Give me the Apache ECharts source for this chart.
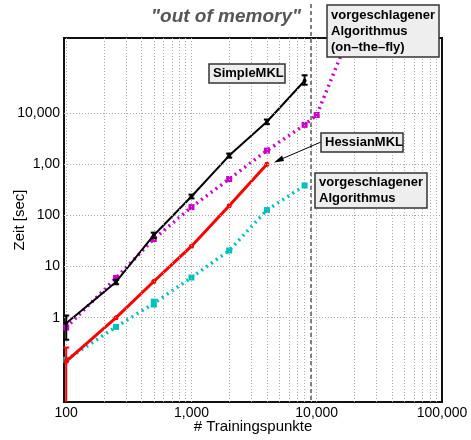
<!DOCTYPE html>
<html>
<head>
<meta charset="utf-8">
<script src="https://cdn.jsdelivr.net/npm/echarts@6/dist/echarts.min.js"></script>
<style>
html, body { margin: 0; padding: 0; background: #fff; }
#main { width: 471px; height: 440px; }
</style>
</head>
<body>
<div id="main"></div>
<script>
// Laufzeit (sec) ueber Anzahl Trainingspunkte, log-log
var nSimple = [100, 250, 500, 1000, 2000, 4000, 8000];
var tSimple = [0.78, 5.0, 41, 234, 1480, 6800, 43000];
var errSimple = [[0.37, 1.1], [4.5, 5.5], [36, 46], [215, 255], [1350, 1620], [6100, 7500], [36000, 55000]];

var nHessian = [100, 250, 500, 1000, 2000, 4000];
var tHessian = [0.14, 1.0, 5.1, 25, 154, 1000];
var errHessian = [[0.001, 0.26]];   // nur bei 100 sichtbar

var nOnTheFly = [100, 250, 500, 1000, 2000, 4000, 8000, 10000, 20000];
var tOnTheFly = [0.64, 6.0, 34.5, 145, 516, 1850, 5900, 9200, 600000];

var nProposed = [100, 250, 500, 1000, 2000, 4000, 8000];
var tProposed = [0.15, 0.66, 1.9, 6.1, 20.6, 127, 385];
var errProposed = [null, null, [1.65, 2.25], null, null, null, null];

var outOfMemoryAt = 9000;

// Achsenbeschriftungen
var xTicks = [100, 1000, 10000, 100000];
var xTickLabels = ['100', '1,000', '10,000', '100,000'];
var yTicks = [1, 10, 100, 1000, 10000];
var yTickLabels = ['1', '10', '100', '1,00', '10,000'];

var FONT = 'Liberation Sans, Arial, Helvetica, sans-serif';

function pairs(xs, ys) {
    var out = [];
    for (var i = 0; i < ys.length; i++) out.push([xs[i], ys[i]]);
    return out;
}

function tickLabel(ticks, labels) {
    return function (v) {
        for (var i = 0; i < ticks.length; i++) {
            if (Math.abs(v - ticks[i]) / ticks[i] < 1e-6) return labels[i];
        }
        return '';
    };
}

// Fehlerbalken als custom series
function errorBars(xs, bounds, color) {
    var data = [];
    for (var i = 0; i < bounds.length; i++) {
        if (bounds[i]) data.push([xs[i], bounds[i][0], bounds[i][1]]);
    }
    return {
        type: 'custom',
        z: 5,
        silent: true,
        encode: { x: 0, y: [1, 2] },
        data: data,
        renderItem: function (params, api) {
            var cs = params.coordSys;
            var lo = api.coord([api.value(0), api.value(1)]);
            var hi = api.coord([api.value(0), api.value(2)]);
            var bottom = cs.y + cs.height;
            var x = lo[0];
            var yb = Math.min(lo[1], bottom);
            var st = { stroke: color, lineWidth: 2 };
            var kids = [
                { type: 'line', shape: { x1: x, y1: hi[1], x2: x, y2: yb }, style: st },
                { type: 'line', shape: { x1: x - 3, y1: hi[1], x2: x + 3, y2: hi[1] }, style: st }
            ];
            if (lo[1] < bottom) {
                kids.push({ type: 'line', shape: { x1: x - 3, y1: yb, x2: x + 3, y2: yb }, style: st });
            }
            return { type: 'group', children: kids };
        }
    };
}

// Gitterlinien (Matlab-Stil: Nebenlinien nur in x)
var gridLines = [];
for (var e = 2; e <= 4; e++) {
    for (var m = 1; m <= 9; m++) gridLines.push({ xAxis: m * Math.pow(10, e) });
}
for (var k = 0; k < yTicks.length; k++) gridLines.push({ yAxis: yTicks[k] });

var myChart = echarts.init(document.getElementById('main'));

var option = {
    animation: false,
    backgroundColor: '#fff',
    textStyle: { fontFamily: FONT },
    grid: {
        left: 64, right: 29, top: 38, bottom: 38,
        outerBoundsMode: 'none',
        containLabel: false,
        show: true, borderColor: '#111', borderWidth: 2, backgroundColor: 'transparent'
    },
    xAxis: {
        type: 'log',
        logBase: 10,
        min: 96,
        max: 100000,
        name: '# Trainingspunkte',
        nameLocation: 'middle',
        nameGap: 17,
        nameMoveOverlap: false,
        nameTextStyle: { fontSize: 15, color: '#000', fontFamily: FONT },
        axisLine: { show: false },
        axisTick: { show: false },
        splitLine: { show: false },
        axisLabel: {
            fontSize: 14, color: '#000', margin: 4, fontFamily: FONT,
            formatter: tickLabel(xTicks, xTickLabels)
        }
    },
    yAxis: {
        type: 'log',
        logBase: 10,
        min: 0.0224,
        max: 295000,
        name: 'Zeit [sec]',
        nameLocation: 'middle',
        nameGap: 37,
        nameMoveOverlap: false,
        nameTextStyle: { fontSize: 15, color: '#000', fontFamily: FONT },
        axisLine: { show: false },
        axisTick: { show: false },
        splitLine: { show: false },
        axisLabel: {
            fontSize: 14, color: '#000', margin: 4, fontFamily: FONT,
            formatter: tickLabel(yTicks, yTickLabels)
        }
    },
    series: [
        {
            type: 'line',
            data: [],
            z: 1,
            silent: true,
            markLine: {
                silent: true,
                symbol: 'none',
                label: { show: false },
                lineStyle: { color: '#aaa', width: 1, type: [1, 2] },
                data: gridLines
            }
        },
        {
            name: 'SimpleMKL',
            type: 'line',
            z: 4,
            data: pairs(nSimple, tSimple),
            symbol: 'circle',
            symbolSize: 4,
            itemStyle: { color: '#000' },
            lineStyle: { color: '#000', width: 2 }
        },
        errorBars(nSimple, errSimple, '#000'),
        {
            name: 'HessianMKL',
            type: 'line',
            z: 4,
            data: pairs(nHessian, tHessian),
            symbol: 'circle',
            symbolSize: 5,
            itemStyle: { color: '#ff0000' },
            lineStyle: { color: '#ff0000', width: 3 }
        },
        errorBars(nHessian, errHessian, '#ff0000'),
        {
            name: 'vorgeschlagener Algorithmus (on-the-fly)',
            type: 'line',
            z: 3,
            data: pairs(nOnTheFly, tOnTheFly),
            symbol: 'rect',
            symbolSize: 6,
            itemStyle: { color: '#cc00cc' },
            lineStyle: { color: '#cc00cc', width: 3.5, type: [2, 4], cap: 'butt' }
        },
        {
            name: 'vorgeschlagener Algorithmus',
            type: 'line',
            z: 3,
            data: pairs(nProposed, tProposed),
            symbol: 'rect',
            symbolSize: 6,
            itemStyle: { color: '#00bfbf' },
            lineStyle: { color: '#00bfbf', width: 3.5, type: [2, 4], cap: 'butt' }
        },
        errorBars(nProposed, errProposed, '#00bfbf')
    ]
};

myChart.setOption(option);

// Beschriftungen
function box(x, y, w, h, lines) {
    return {
        type: 'group',
        children: [{
            type: 'rect',
            z: 20,
            shape: { x: x, y: y, width: w, height: h },
            style: { fill: '#eeeeee', stroke: '#333', lineWidth: 1.5 }
        }, {
            type: 'text',
            z: 21,
            x: x + 4,
            y: y + h / 2,
            style: {
                text: lines.join('\n'),
                font: 'bold 13px ' + FONT,
                fill: '#000',
                lineHeight: 16,
                verticalAlign: 'middle',
                align: 'left'
            }
        }]
    };
}

var xOom = myChart.convertToPixel({ xAxisIndex: 0 }, outOfMemoryAt);

myChart.setOption({
    graphic: [
        {
            type: 'line',
            z: 10,
            shape: { x1: xOom, y1: 4, x2: xOom, y2: 402 },
            style: { stroke: '#808080', lineWidth: 2, lineDash: [4, 3] }
        },
        {
            type: 'text',
            z: 10,
            x: 226,
            y: 17,
            style: {
                text: '"out of memory"',
                font: 'italic bold 19px ' + FONT,
                fill: '#555',
                align: 'center',
                verticalAlign: 'middle'
            }
        },
        box(209, 64, 76, 19, ['SimpleMKL']),
        box(327, 5, 112, 52, ['vorgeschlagener', 'Algorithmus', '(on\u2013the\u2013fly)']),
        box(321, 133, 82, 19, ['HessianMKL']),
        box(315, 173, 112, 35, ['vorgeschlagener', 'Algorithmus']),
        {
            type: 'line',
            z: 15,
            shape: { x1: 321, y1: 142, x2: 277, y2: 161 },
            style: { stroke: '#000', lineWidth: 1 }
        },
        {
            type: 'polygon',
            z: 15,
            shape: { points: [[274, 162.5], [282, 155.5], [284, 161]] },
            style: { fill: '#000' }
        }
    ]
});
</script>
</body>
</html>
